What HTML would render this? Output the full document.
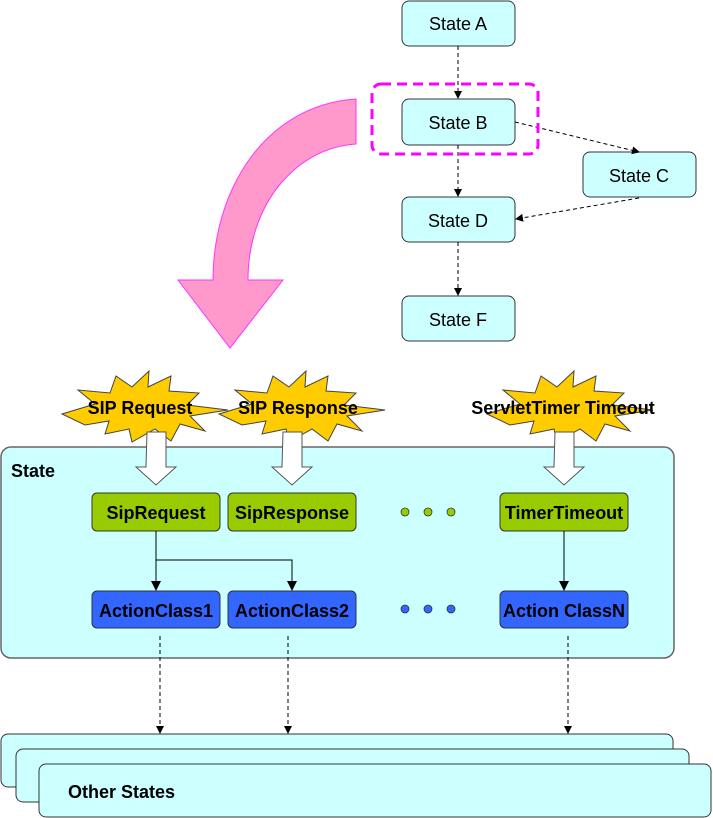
<!DOCTYPE html>
<html><head><style>body{margin:0;background:#fff}svg{display:block}</style></head><body>
<svg width="713" height="818" viewBox="0 0 713 818" xmlns="http://www.w3.org/2000/svg" font-family="Liberation Sans, Arial, sans-serif">
<defs>
<marker id="ah" markerWidth="8" markerHeight="8" refX="7" refY="4" orient="auto" markerUnits="userSpaceOnUse"><path d="M0,0 L8,4 L0,8 z" fill="#000"/></marker>
<marker id="ah2" markerWidth="10" markerHeight="10" refX="9" refY="5" orient="auto" markerUnits="userSpaceOnUse"><path d="M0,0 L10,5 L0,10 z" fill="#000"/></marker>
</defs>
<g fill="#ccffff" stroke="#333" stroke-width="1">
<rect x="402" y="1" width="113" height="45" rx="7"/>
<rect x="402" y="99" width="113" height="46" rx="7"/>
<rect x="583" y="152" width="113" height="45" rx="7"/>
<rect x="402" y="197" width="113" height="45" rx="7"/>
<rect x="402" y="296" width="113" height="45" rx="7"/>
</g>
<g font-size="18" text-anchor="middle" fill="#000">
<text x="458" y="30">State A</text>
<text x="458" y="129">State B</text>
<text x="639" y="182">State C</text>
<text x="458" y="227">State D</text>
<text x="458" y="326">State F</text>
</g>
<g stroke="#000" stroke-dasharray="4,3" fill="none" stroke-width="1">
<line x1="458" y1="46" x2="458" y2="98" marker-end="url(#ah)"/>
<line x1="458" y1="145" x2="458" y2="196" marker-end="url(#ah)"/>
<line x1="458" y1="242" x2="458" y2="295" marker-end="url(#ah)"/>
<line x1="515" y1="122" x2="639" y2="152" marker-end="url(#ah)"/>
<line x1="639" y1="198" x2="516" y2="219" marker-end="url(#ah)"/>
</g>
<rect x="372" y="84" width="166" height="70" rx="9" fill="none" stroke="#ff00ff" stroke-width="3" stroke-dasharray="10,6"/>
<path d="M356,99 C265,105 213,190 213,280 L178,280 L230,348 L283,280 L248,280 C248,205 295,148 356,144 Z" fill="#ff99cc" stroke="#ff33ff" stroke-width="1"/>
<rect x="1" y="447" width="673" height="211" rx="10" fill="#ccffff" stroke="#666" stroke-width="1.5"/>
<text x="11" y="477" font-size="18" font-weight="bold">State</text>
<g fill="#ffcc00" stroke="#444" stroke-width="1">
<polygon transform="translate(145,407)" points="-83,7 -50,-3 -67,-17 -35,-14 -29,-31 -13,-20 4,-36 3,-20 26,-31 24,-16 54,-14 42,-2 83,3 45,9 60,24 35,17 26,34 10,22 -13,35 -16,22 -40,27 -36,14 -60,18"/>
<polygon transform="translate(302,407)" points="-83,7 -50,-3 -67,-17 -35,-14 -29,-31 -13,-20 4,-36 3,-20 26,-31 24,-16 54,-14 42,-2 83,3 45,9 60,24 35,17 26,34 10,22 -13,35 -16,22 -40,27 -36,14 -60,18"/>
<polygon transform="translate(570,407)" points="-83,7 -50,-3 -67,-17 -35,-14 -29,-31 -13,-20 4,-36 3,-20 26,-31 24,-16 54,-14 42,-2 83,3 45,9 60,24 35,17 26,34 10,22 -13,35 -16,22 -40,27 -36,14 -60,18"/>
</g>
<g font-size="18" font-weight="bold" text-anchor="middle">
<text x="140" y="414">SIP Request</text>
<text x="298" y="414">SIP Response</text>
<text x="563" y="414">ServletTimer Timeout</text>
</g>
<g fill="#fff" stroke="#555" stroke-width="1">
<path d="M147,432 L166,432 L166,467 L176,467 L156,485 L136,467 L146,467 Z"/>
<path d="M283,432 L302,432 L302,467 L312,467 L292,485 L272,467 L282,467 Z"/>
<path d="M555,432 L574,432 L574,467 L584,467 L564,485 L544,467 L554,467 Z"/>
</g>
<g fill="#99cc00" stroke="#333" stroke-width="1">
<rect x="92" y="493" width="128" height="38" rx="5"/>
<rect x="228" y="493" width="128" height="38" rx="5"/>
<rect x="500" y="493" width="128" height="38" rx="5"/>
</g>
<g fill="#3366ff" stroke="#333" stroke-width="1">
<rect x="92" y="591" width="128" height="37" rx="5"/>
<rect x="228" y="591" width="128" height="37" rx="5"/>
<rect x="500" y="591" width="128" height="37" rx="5"/>
</g>
<g font-size="18" font-weight="bold" text-anchor="middle" fill="#000">
<text x="156" y="519">SipRequest</text>
<text x="292" y="519">SipResponse</text>
<text x="564" y="519">TimerTimeout</text>
<text x="156" y="617">ActionClass1</text>
<text x="292" y="617">ActionClass2</text>
<text x="564" y="617">Action ClassN</text>
</g>
<g fill="#99cc00" stroke="#333" stroke-width="0.8">
<circle cx="405" cy="512" r="4"/><circle cx="428" cy="512" r="4"/><circle cx="451" cy="512" r="4"/>
</g>
<g fill="#3366ff" stroke="#333" stroke-width="0.8">
<circle cx="405" cy="609" r="4"/><circle cx="428" cy="609" r="4"/><circle cx="451" cy="609" r="4"/>
</g>
<g stroke="#000" fill="none" stroke-width="1">
<line x1="156" y1="531" x2="156" y2="590" marker-end="url(#ah2)"/>
<polyline points="156,560 292,560 292,590" marker-end="url(#ah2)"/>
<line x1="564" y1="531" x2="564" y2="590" marker-end="url(#ah2)"/>
</g>
<g stroke="#000" fill="none" stroke-width="1" stroke-dasharray="4,3">
<line x1="160" y1="636" x2="160" y2="733" marker-end="url(#ah)"/>
<line x1="288" y1="636" x2="288" y2="733" marker-end="url(#ah)"/>
<line x1="568" y1="636" x2="568" y2="733" marker-end="url(#ah)"/>
</g>
<g fill="#ccffff" stroke="#333" stroke-width="1">
<rect x="1" y="734" width="672" height="53" rx="7"/>
<rect x="16" y="749" width="673" height="53" rx="7"/>
<rect x="39" y="764" width="672" height="53" rx="7"/>
</g>
<text x="68" y="798" font-size="18" font-weight="bold">Other States</text>
</svg>
</body></html>
